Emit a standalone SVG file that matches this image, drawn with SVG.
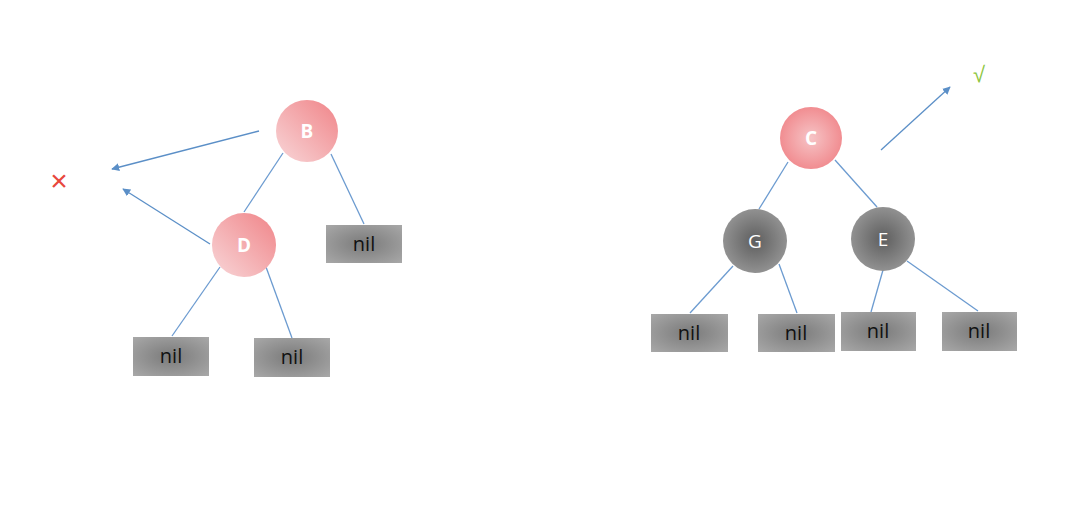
<svg xmlns="http://www.w3.org/2000/svg" width="1080" height="509" viewBox="0 0 1080 509">
<defs>
<linearGradient id="pinkLin" x1="0" y1="1" x2="1" y2="0">
<stop offset="0" stop-color="#f8d6d8"/>
<stop offset="1" stop-color="#f08488"/>
</linearGradient>
<radialGradient id="pinkRad" cx="0.5" cy="0.5" r="0.5">
<stop offset="0" stop-color="#f6c4c6"/>
<stop offset="1" stop-color="#f18d91"/>
</radialGradient>
<radialGradient id="grayRad" cx="0.5" cy="0.5" r="0.5">
<stop offset="0" stop-color="#5e5e5e"/>
<stop offset="1" stop-color="#919191"/>
</radialGradient>
<radialGradient id="nilRad" cx="0.5" cy="0.5" r="0.7">
<stop offset="0" stop-color="#7a7a7a"/>
<stop offset="1" stop-color="#a8a8a8"/>
</radialGradient>
<marker id="arr" viewBox="0 0 10 10" refX="9" refY="5" markerWidth="8" markerHeight="8" markerUnits="userSpaceOnUse" orient="auto">
<path d="M0,0 L10,5 L0,10 z" fill="#5b8fc7"/>
</marker>
</defs>
<style>
.edge{stroke:#6c9bd0;stroke-width:1.3;fill:none}
.arrow{stroke:#5b8fc7;stroke-width:1.3;fill:none;marker-end:url(#arr)}
.nil{fill:url(#nilRad)}
.nilt{font-family:"Open Sans","Liberation Sans",sans-serif;font-size:20px;fill:#111;text-anchor:middle}
.lbl{font-family:"Open Sans","Liberation Sans",sans-serif;font-size:19px;fill:#fff;text-anchor:middle}
.bold{font-weight:bold}
</style>
<rect width="1080" height="509" fill="#fff"/>
<g id="connectors">
<line class="edge" x1="283" y1="153" x2="244" y2="212"/>
<line class="edge" x1="331" y1="154" x2="364" y2="224"/>
<line class="edge" x1="220" y1="267" x2="172" y2="336"/>
<line class="edge" x1="266" y1="267" x2="292" y2="338"/>
<line class="arrow" x1="259" y1="131" x2="112" y2="169"/>
<line class="arrow" x1="210" y1="244" x2="123" y2="189"/>
<line class="edge" x1="788" y1="162" x2="759" y2="209"/>
<line class="edge" x1="835" y1="160" x2="877" y2="207"/>
<line class="edge" x1="733" y1="266" x2="690" y2="313"/>
<line class="edge" x1="779" y1="264" x2="797" y2="313"/>
<line class="edge" x1="883" y1="270" x2="871" y2="312"/>
<line class="edge" x1="907" y1="261" x2="978" y2="311"/>
<line class="arrow" x1="881" y1="150" x2="950" y2="87"/>
</g>
<g id="nodeB"><circle cx="307" cy="131" r="31" fill="url(#pinkLin)"/><text class="lbl bold" x="307" y="138">B</text></g>
<g id="nodeD"><circle cx="244" cy="245" r="32" fill="url(#pinkLin)"/><text class="lbl bold" x="244" y="252">D</text></g>
<g id="nilB"><rect class="nil" x="326" y="225" width="76" height="38"/><text class="nilt" x="364" y="251">nil</text></g>
<g id="nilD1"><rect class="nil" x="133" y="337" width="76" height="39"/><text class="nilt" x="171" y="363">nil</text></g>
<g id="nilD2"><rect class="nil" x="254" y="338" width="76" height="39"/><text class="nilt" x="292" y="364">nil</text></g>
<g id="cross"><text x="59" y="191" font-family="Liberation Sans, sans-serif" font-size="30" fill="#e8473c" text-anchor="middle">×</text></g>
<g id="nodeC"><circle cx="811" cy="138" r="31" fill="url(#pinkRad)"/><text class="lbl bold" x="811" y="145">C</text></g>
<g id="nodeG"><circle cx="755" cy="241" r="32" fill="url(#grayRad)"/><text class="lbl" x="755" y="248">G</text></g>
<g id="nodeE"><circle cx="883" cy="239" r="32" fill="url(#grayRad)"/><text class="lbl" x="883" y="246">E</text></g>
<g id="nilG1"><rect class="nil" x="651" y="314" width="77" height="38"/><text class="nilt" x="689" y="340">nil</text></g>
<g id="nilG2"><rect class="nil" x="758" y="314" width="77" height="38"/><text class="nilt" x="796" y="340">nil</text></g>
<g id="nilE1"><rect class="nil" x="841" y="312" width="75" height="39"/><text class="nilt" x="878" y="338">nil</text></g>
<g id="nilE2"><rect class="nil" x="942" y="312" width="75" height="39"/><text class="nilt" x="979" y="338">nil</text></g>
<g id="check"><text x="979" y="82" font-family="Liberation Sans, sans-serif" font-size="22" fill="#8dc63f" text-anchor="middle">√</text></g>
</svg>
